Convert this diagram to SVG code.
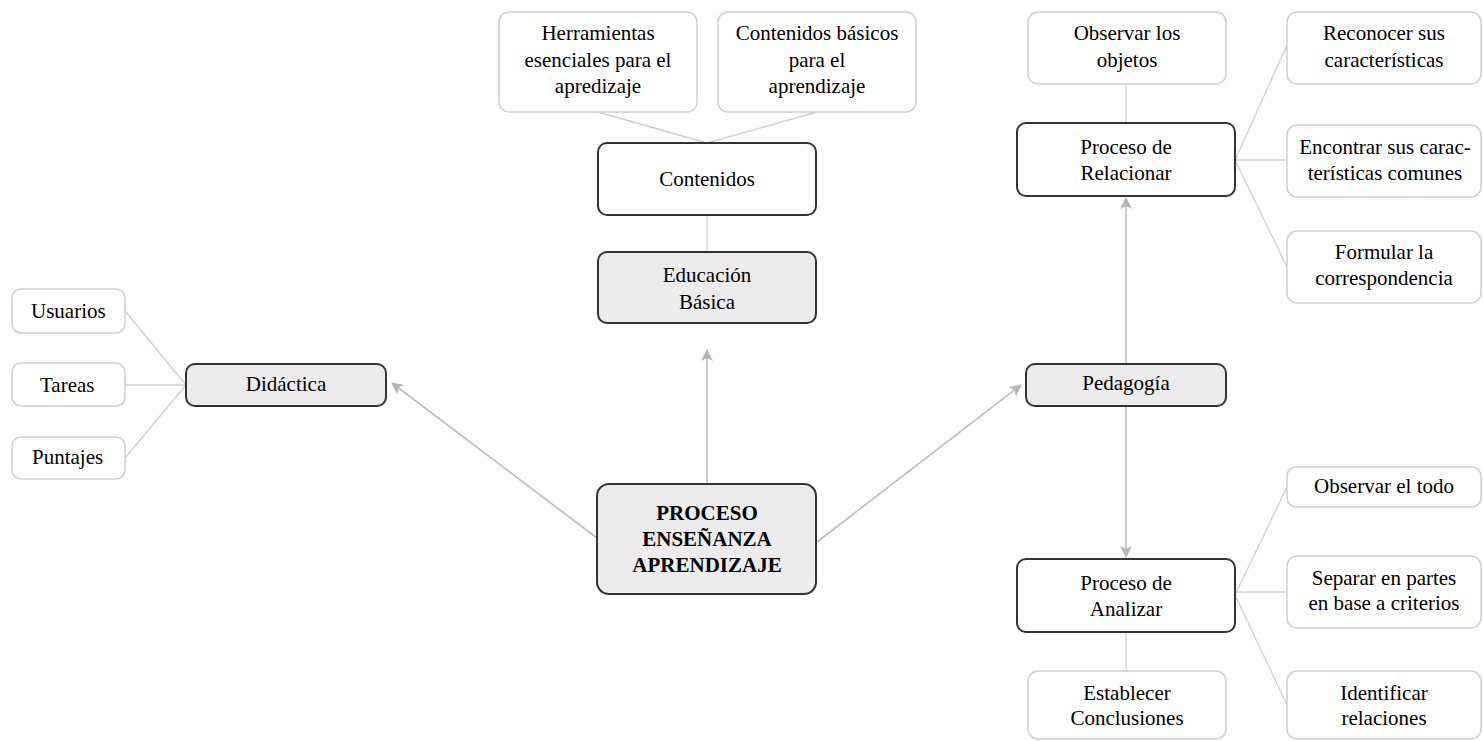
<svg xmlns="http://www.w3.org/2000/svg" width="1483" height="741" viewBox="0 0 1483 741">
<defs>
<marker id="ah" viewBox="0 0 12 12" refX="11" refY="6" markerWidth="12" markerHeight="12" markerUnits="userSpaceOnUse" orient="auto">
<path d="M0,0 L12,6 L0,12 L3,6 Z" fill="#b5b5b5"/>
</marker>
</defs>
<rect width="1483" height="741" fill="#fff"/>
<g id="connectors" fill="none">
<g stroke="#cfcfcf" stroke-width="1.3">
<line x1="598" y1="112" x2="707" y2="143"/>
<line x1="817" y1="112" x2="707" y2="143"/>
<line x1="707" y1="215" x2="707" y2="252"/>
<line x1="125" y1="311" x2="186" y2="385"/>
<line x1="125" y1="385" x2="186" y2="385"/>
<line x1="125" y1="458" x2="186" y2="385"/>
<line x1="1126" y1="84" x2="1126" y2="123"/>
<line x1="1236" y1="158" x2="1287" y2="45"/>
<line x1="1236" y1="160" x2="1287" y2="160"/>
<line x1="1236" y1="162" x2="1287" y2="267"/>
<line x1="1126" y1="632" x2="1126" y2="671"/>
<line x1="1236" y1="593" x2="1287" y2="487"/>
<line x1="1236" y1="592" x2="1287" y2="592"/>
<line x1="1236" y1="597" x2="1287" y2="705"/>
</g>
<g stroke="#bdbdbd" stroke-width="1.6" marker-end="url(#ah)">
<line x1="707" y1="484" x2="707" y2="350"/>
<line x1="597" y1="538" x2="392" y2="383"/>
<line x1="817" y1="542" x2="1021" y2="385"/>
<line x1="1126" y1="364" x2="1126" y2="198"/>
<line x1="1126" y1="406" x2="1126" y2="557"/>
</g>
</g>
<g id="central"><rect x="597" y="484" width="219" height="110" rx="12" fill="#ececec" stroke="#333" stroke-width="2"/>
<text font-family="Liberation Serif" font-size="21" font-weight="bold" text-anchor="middle" x="707" y="520">PROCESO</text>
<text font-family="Liberation Serif" font-size="21" font-weight="bold" text-anchor="middle" x="707" y="546">ENSEÑANZA</text>
<text font-family="Liberation Serif" font-size="21" font-weight="bold" text-anchor="middle" x="707" y="572">APRENDIZAJE</text></g>
<g id="educacion"><rect x="598" y="252" width="218" height="71" rx="9" fill="#ececec" stroke="#333" stroke-width="2"/>
<text font-family="Liberation Serif" font-size="21" text-anchor="middle" x="707" y="282">Educación</text>
<text font-family="Liberation Serif" font-size="21" text-anchor="middle" x="707" y="309">Básica</text></g>
<g id="contenidos"><rect x="598" y="143" width="218" height="72" rx="9" fill="#fff" stroke="#333" stroke-width="2"/>
<text font-family="Liberation Serif" font-size="21" text-anchor="middle" x="707" y="186">Contenidos</text></g>
<g id="herramientas"><rect x="499" y="12" width="198" height="100" rx="10" fill="#fff" stroke="#cfcfcf" stroke-width="1.5"/>
<text font-family="Liberation Serif" font-size="21" text-anchor="middle" x="598" y="40">Herramientas</text>
<text font-family="Liberation Serif" font-size="21" text-anchor="middle" x="598" y="67">esenciales para el</text>
<text font-family="Liberation Serif" font-size="21" text-anchor="middle" x="598" y="93">apredizaje</text></g>
<g id="contenidos-basicos"><rect x="718" y="12" width="198" height="100" rx="10" fill="#fff" stroke="#cfcfcf" stroke-width="1.5"/>
<text font-family="Liberation Serif" font-size="21" text-anchor="middle" x="817" y="40">Contenidos básicos</text>
<text font-family="Liberation Serif" font-size="21" text-anchor="middle" x="817" y="67">para el</text>
<text font-family="Liberation Serif" font-size="21" text-anchor="middle" x="817" y="93">aprendizaje</text></g>
<g id="didactica"><rect x="186" y="364" width="200" height="42" rx="9" fill="#ececec" stroke="#333" stroke-width="2"/>
<text font-family="Liberation Serif" font-size="21" text-anchor="middle" x="286" y="391">Didáctica</text></g>
<g id="usuarios"><rect x="12" y="289" width="113" height="44" rx="9" fill="#fff" stroke="#cfcfcf" stroke-width="1.5"/>
<text font-family="Liberation Serif" font-size="21" x="31" y="318">Usuarios</text></g>
<g id="tareas"><rect x="12" y="363" width="113" height="43" rx="9" fill="#fff" stroke="#cfcfcf" stroke-width="1.5"/>
<text font-family="Liberation Serif" font-size="21" x="40" y="392">Tareas</text></g>
<g id="puntajes"><rect x="12" y="437" width="113" height="42" rx="9" fill="#fff" stroke="#cfcfcf" stroke-width="1.5"/>
<text font-family="Liberation Serif" font-size="21" x="32" y="464">Puntajes</text></g>
<g id="pedagogia"><rect x="1026" y="364" width="200" height="42" rx="9" fill="#ececec" stroke="#333" stroke-width="2"/>
<text font-family="Liberation Serif" font-size="21" text-anchor="middle" x="1126" y="390">Pedagogía</text></g>
<g id="relacionar"><rect x="1017" y="123" width="218" height="73" rx="9" fill="#fff" stroke="#333" stroke-width="2"/>
<text font-family="Liberation Serif" font-size="21" text-anchor="middle" x="1126" y="154">Proceso de</text>
<text font-family="Liberation Serif" font-size="21" text-anchor="middle" x="1126" y="180">Relacionar</text></g>
<g id="observar-objetos"><rect x="1028" y="12" width="198" height="72" rx="10" fill="#fff" stroke="#cfcfcf" stroke-width="1.5"/>
<text font-family="Liberation Serif" font-size="21" text-anchor="middle" x="1127" y="40">Observar los</text>
<text font-family="Liberation Serif" font-size="21" text-anchor="middle" x="1127" y="67">objetos</text></g>
<g id="reconocer"><rect x="1287" y="12" width="194" height="72" rx="10" fill="#fff" stroke="#cfcfcf" stroke-width="1.5"/>
<text font-family="Liberation Serif" font-size="21" text-anchor="middle" x="1384" y="40">Reconocer sus</text>
<text font-family="Liberation Serif" font-size="21" text-anchor="middle" x="1384" y="67">características</text></g>
<g id="encontrar"><rect x="1287" y="125" width="194" height="72" rx="10" fill="#fff" stroke="#cfcfcf" stroke-width="1.5"/>
<text font-family="Liberation Serif" font-size="21" text-anchor="middle" x="1385" y="154">Encontrar sus carac-</text>
<text font-family="Liberation Serif" font-size="21" text-anchor="middle" x="1385" y="180">terísticas comunes</text></g>
<g id="formular"><rect x="1287" y="231" width="194" height="72" rx="10" fill="#fff" stroke="#cfcfcf" stroke-width="1.5"/>
<text font-family="Liberation Serif" font-size="21" text-anchor="middle" x="1384" y="259">Formular la</text>
<text font-family="Liberation Serif" font-size="21" text-anchor="middle" x="1384" y="285">correspondencia</text></g>
<g id="analizar"><rect x="1017" y="559" width="218" height="73" rx="9" fill="#fff" stroke="#333" stroke-width="2"/>
<text font-family="Liberation Serif" font-size="21" text-anchor="middle" x="1126" y="590">Proceso de</text>
<text font-family="Liberation Serif" font-size="21" text-anchor="middle" x="1126" y="616">Analizar</text></g>
<g id="observar-todo"><rect x="1287" y="467" width="194" height="40" rx="9" fill="#fff" stroke="#cfcfcf" stroke-width="1.5"/>
<text font-family="Liberation Serif" font-size="21" text-anchor="middle" x="1384" y="493">Observar el todo</text></g>
<g id="separar"><rect x="1287" y="556" width="194" height="72" rx="10" fill="#fff" stroke="#cfcfcf" stroke-width="1.5"/>
<text font-family="Liberation Serif" font-size="21" text-anchor="middle" x="1384" y="585">Separar en partes</text>
<text font-family="Liberation Serif" font-size="21" text-anchor="middle" x="1384" y="610">en base a criterios</text></g>
<g id="identificar"><rect x="1287" y="671" width="194" height="68" rx="10" fill="#fff" stroke="#cfcfcf" stroke-width="1.5"/>
<text font-family="Liberation Serif" font-size="21" text-anchor="middle" x="1384" y="700">Identificar</text>
<text font-family="Liberation Serif" font-size="21" text-anchor="middle" x="1384" y="725">relaciones</text></g>
<g id="establecer"><rect x="1028" y="671" width="198" height="68" rx="10" fill="#fff" stroke="#cfcfcf" stroke-width="1.5"/>
<text font-family="Liberation Serif" font-size="21" text-anchor="middle" x="1127" y="700">Establecer</text>
<text font-family="Liberation Serif" font-size="21" text-anchor="middle" x="1127" y="725">Conclusiones</text></g>
</svg>
